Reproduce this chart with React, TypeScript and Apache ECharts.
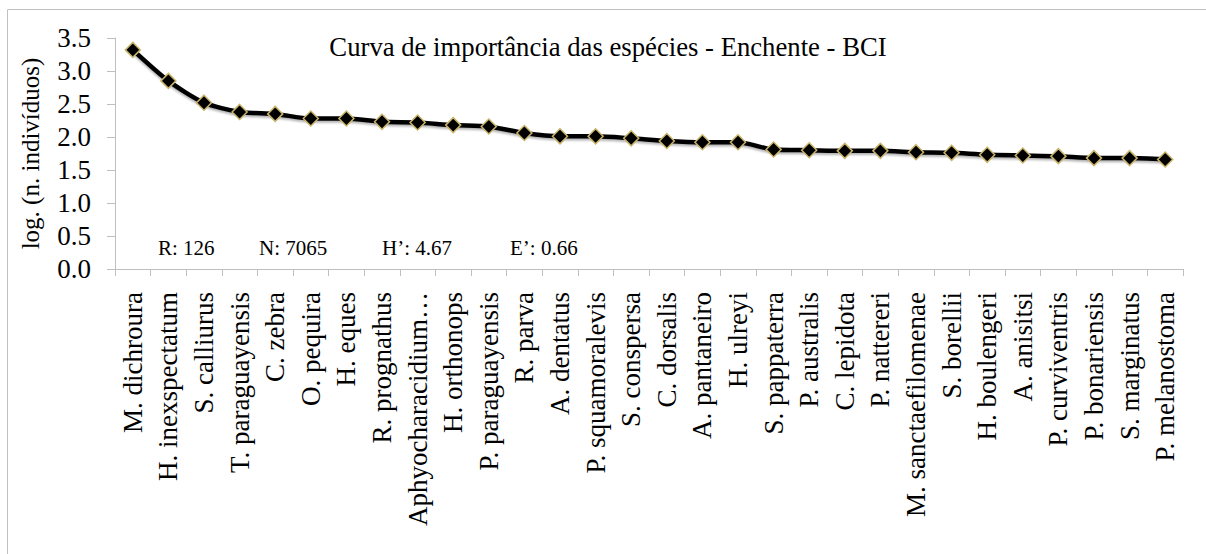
import React, { useEffect, useRef } from "react";
import * as echarts from "echarts";

const categories: string[] = [
  "M. dichroura", "H. inexspectatum", "S. calliurus", "T. paraguayensis", "C. zebra",
  "O. pequira", "H. eques", "R. prognathus", "Aphyocharacidium…", "H. orthonops",
  "P. paraguayensis", "R. parva", "A. dentatus", "P. squamoralevis", "S. conspersa",
  "C. dorsalis", "A. pantaneiro", "H. ulreyi", "S. pappaterra", "P. australis",
  "C. lepidota", "P. nattereri", "M. sanctaefilomenae", "S. borellii", "H. boulengeri",
  "A. anisitsi", "P. curviventris", "P. bonariensis", "S. marginatus", "P. melanostoma",
];

const logAbundance: number[] = [
  3.32, 2.85, 2.52, 2.38, 2.35, 2.28, 2.28, 2.23, 2.22, 2.18,
  2.16, 2.06, 2.01, 2.01, 1.98, 1.94, 1.92, 1.92, 1.81, 1.80,
  1.79, 1.79, 1.77, 1.76, 1.73, 1.72, 1.71, 1.68, 1.68, 1.66,
];

const yTicks = { min: 0, max: 3.5, interval: 0.5 };

const titleText = "Curva de importância das espécies - Enchente - BCI";
const yAxisName = "log. (n. indivíduos)";
const statLabels: string[] = ["R: 126", "N: 7065", "H\u2019: 4.67", "E\u2019: 0.66"];
const statX: number[] = [158, 259, 382, 510];

const FONT = "Liberation Serif";

export default function App() {
  const ref = useRef<HTMLDivElement>(null);
  useEffect(() => {
    if (!ref.current) return;
    const chart = echarts.init(ref.current, undefined, { renderer: "svg" });
    chart.setOption({
      animation: false,
      backgroundColor: "#ffffff",
      textStyle: { fontFamily: FONT },
      grid: { left: 115, right: 23, top: 38, bottom: 285, containLabel: false, outerBoundsMode: "none" },
      xAxis: {
        type: "category",
        data: categories,
        boundaryGap: true,
        axisLine: { show: true, lineStyle: { color: "#bfbfbf", width: 1 } },
        axisTick: { show: true, length: 7, inside: false, alignWithLabel: false, lineStyle: { color: "#bfbfbf" } },
        axisLabel: {
          interval: 0,
          rotate: 90,
          margin: 23,
          color: "#000",
          fontFamily: FONT,
          fontSize: 27,
        },
      },
      yAxis: {
        type: "value",
        min: yTicks.min,
        max: yTicks.max,
        interval: yTicks.interval,
        name: yAxisName,
        nameLocation: "middle",
        nameGap: 72,
        nameRotate: 90,
        nameTextStyle: { color: "#000", fontFamily: FONT, fontSize: 25 },
        axisLine: { show: true, lineStyle: { color: "#bfbfbf", width: 1 } },
        axisTick: { show: true, length: 8, lineStyle: { color: "#bfbfbf" } },
        splitLine: { show: false },
        axisLabel: {
          margin: 24,
          color: "#000",
          fontFamily: FONT,
          fontSize: 27,
          formatter: (v: number) => v.toFixed(1),
        },
      },
      series: [
        {
          type: "line",
          data: logAbundance,
          smooth: 0.25,
          symbol: "diamond",
          symbolSize: 15,
          lineStyle: {
            color: "#000",
            width: 4.5,
            shadowColor: "rgba(0,0,0,0.3)",
            shadowBlur: 2,
            shadowOffsetY: 2,
          },
          itemStyle: { color: "#000", borderColor: "#c9b46b", borderWidth: 1.5 },
          z: 3,
        },
      ],
      graphic: [
        {
          type: "rect",
          shape: { x: 7.5, y: 9.5, width: 1220, height: 560 },
          style: { fill: "none", stroke: "#c0c0c0", lineWidth: 1 },
          silent: true,
          z: -10,
        },
        {
          type: "text",
          x: 608,
          y: 47,
          style: {
            text: titleText,
            fill: "#000",
            fontFamily: FONT,
            fontSize: 26.7,
            align: "center",
            verticalAlign: "middle",
          },
        },
        ...statLabels.map((t, i) => ({
          type: "text",
          x: statX[i],
          y: 248,
          style: {
            text: t,
            fill: "#000",
            fontFamily: FONT,
            fontSize: 21,
            align: "left",
            verticalAlign: "middle",
          },
        })),
      ],
    });
    return () => chart.dispose();
  }, []);
  return (
    <div
      ref={ref}
      style={{ position: "fixed", left: 0, top: 0, width: 1206, height: 554, background: "#fff" }}
    />
  );
}
